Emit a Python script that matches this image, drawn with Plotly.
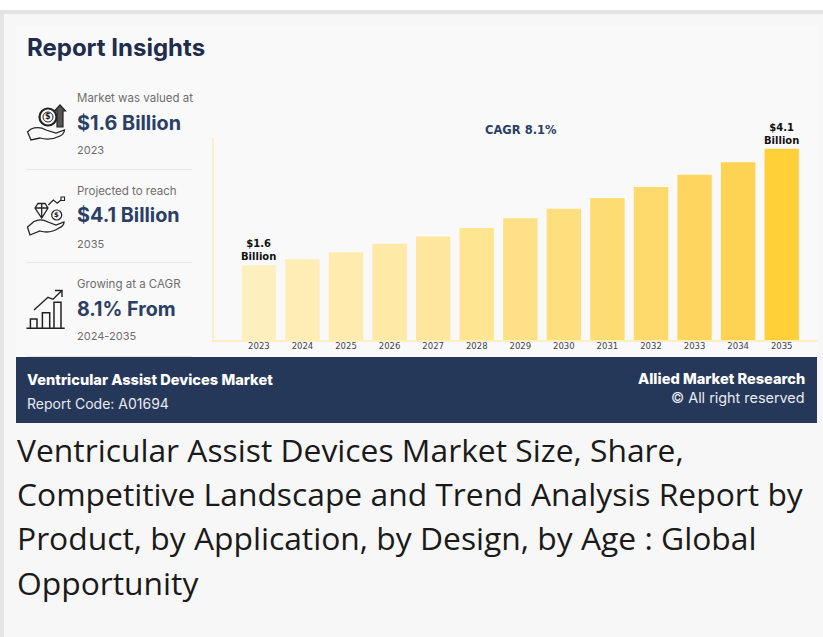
import plotly.graph_objects as go

# Market size by year, USD billion
years = ["2023", "2024", "2025", "2026", "2027", "2028", "2029",
         "2030", "2031", "2032", "2033", "2034", "2035"]
market_size = [1.6, 1.73, 1.88, 2.06, 2.22, 2.40, 2.61, 2.81, 3.04, 3.28, 3.54, 3.81, 4.1]
bar_colors = ["#FEEFBE", "#FEEDB5", "#FEEBAD", "#FEE9A6", "#FEE79C", "#FEE591", "#FEE187",
              "#FEDF7E", "#FEDC74", "#FED96B", "#FED65F", "#FED354", "#FFD038"]
value_labels = {"2023": "$1.6<br>Billion", "2035": "$4.1<br>Billion"}

W, H = 823, 637
NAVY = "#26385A"
INK = "#1F2D4D"
GREY = "#6E6E6E"
HEAD = "Inter"
AXIS_LINE = "#FDEFC3"


def px(x):
    return x / W


def py(y):
    return 1 - y / H


shapes = []
annotations = []


def rect(x0, y0, x1, y1, fill):
    shapes.append(dict(type="rect", xref="paper", yref="paper", layer="below",
                       x0=px(x0), x1=px(x1), y0=py(y0), y1=py(y1),
                       fillcolor=fill, line_width=0))


def text(x, y, s, size, color, family=HEAD, weight="normal", anchor="left"):
    annotations.append(dict(xref="paper", yref="paper", x=px(x), y=py(y), text=s,
                            showarrow=False, xanchor=anchor, yanchor="middle",
                            borderpad=0, borderwidth=0,
                            font=dict(size=size, color=color, family=family, weight=weight)))


def icon(ox, oy, commands, width=1.3, fill="rgba(0,0,0,0)", color="#222222"):
    """Add an outline given as (letter, x, y, ...) tuples relative to an icon origin."""
    parts = []
    for cmd in commands:
        if cmd[0] == "Z":
            parts.append("Z")
            continue
        nums = []
        for i, v in enumerate(cmd[1:]):
            nums.append(px(ox + v) if i % 2 == 0 else py(oy + v))
        parts.append(cmd[0] + " " + " ".join(f"{n:.5f}" for n in nums))
    shapes.append(dict(type="path", xref="paper", yref="paper", path=" ".join(parts),
                       line=dict(color=color, width=width), fillcolor=fill))


def circle(ox, oy, cx, cy, r, width=1.2, fill="rgba(0,0,0,0)"):
    shapes.append(dict(type="circle", xref="paper", yref="paper",
                       x0=px(ox + cx - r), x1=px(ox + cx + r),
                       y0=py(oy + cy - r), y1=py(oy + cy + r),
                       line=dict(color="#222222", width=width), fillcolor=fill))


# Page, card and footer panels
rect(0, 0, W, 10, "#FFFFFF")
rect(0, 10, W, H, "#E4E4E4")
rect(4, 14, W, H, "#F7F7F7")
rect(16, 26, 817, 357, "#F9F9F9")
rect(16, 357, 817, 423, NAVY)

# Left column dividers
rect(27, 169, 192, 170, "#E6E6E6")
rect(27, 262, 192, 263, "#E6E6E6")
rect(27, 356, 192, 357, "#E6E6E6")

# Left column text
text(27, 47, "Report Insights", 24, INK, weight=700)
text(77, 98, "Market was valued at", 11.5, GREY)
text(77, 123, "$1.6 Billion", 19.8, "#2B3F66", weight=700)
text(77, 150, "2023", 11, GREY)
text(77, 191, "Projected to reach", 11.5, GREY)
text(77, 215, "$4.1 Billion", 19.8, "#2B3F66", weight=700)
text(77, 244, "2035", 11, GREY)
text(77, 284, "Growing at a CAGR", 11.5, GREY)
text(77, 309, "8.1% From", 19.6, "#2B3F66", weight=700)
text(77, 336, "2024-2035", 11, GREY)

# Icon: coin with arrow above a hand
icon(26, 103, [("M", 1.5, 29), ("L", 5, 26), ("Q", 13, 23, 20, 27), ("L", 30, 30), ("L", 38.5, 27),
               ("Q", 38, 31, 34, 33), ("Q", 24, 38, 14, 35), ("L", 5, 37), ("Z",)])
circle(26, 103, 22, 14, 8.5, 2.2)
circle(26, 103, 22, 14, 5, 1.0)
text(48, 117, "$", 8, "#222222", family="DejaVu Sans", weight=700, anchor="center")
icon(26, 103, [("M", 31, 24), ("L", 31, 8), ("L", 28.5, 8), ("L", 34, 2), ("L", 39.5, 8),
               ("L", 37, 8), ("L", 37, 24), ("Z",)], 1.2, fill="#555555")

# Icon: diamond and coin above a hand
icon(26, 194, [("M", 1.5, 33), ("L", 8, 27.5), ("Q", 15, 24, 22, 28), ("L", 30, 31), ("L", 38, 28),
               ("Q", 38, 32, 33, 34), ("Q", 24, 40, 14, 37), ("L", 4, 41), ("Z",)])
icon(26, 194, [("M", 9, 14), ("L", 12, 9.5), ("L", 19, 9.5), ("L", 22, 14), ("L", 15.7, 24), ("Z",),
               ("M", 9, 14), ("L", 22, 14), ("M", 15.7, 9.5), ("L", 15.7, 24)], 1.3)
circle(26, 194, 30.7, 21, 5, 1.2)
text(56.7, 215.5, "$", 7, "#222222", family="DejaVu Sans", weight=700, anchor="center")
icon(26, 194, [("M", 22.3, 11), ("L", 27.3, 6), ("L", 31.3, 9.3), ("L", 35, 6)], 1.2)
icon(26, 194, [("M", 35, 3), ("L", 38.5, 3), ("L", 38.5, 6.5), ("L", 35, 6.5), ("Z",)], 1.1)

# Icon: rising columns with an arrow
icon(28, 288, [("M", -1.5, 40.3), ("L", 36.7, 40.3), ("M", 2.4, 40), ("L", 2.4, 31), ("L", 9, 31), ("L", 9, 40),
               ("M", 14.4, 40), ("L", 14.4, 24.7), ("L", 21.7, 24.7), ("L", 21.7, 40),
               ("M", 26, 40), ("L", 26, 14.3), ("L", 33, 14.3), ("L", 33, 40)], 1.5)
icon(28, 288, [("M", 6, 22), ("L", 20, 9.3), ("L", 25, 11.3), ("L", 33.4, 3),
               ("M", 27, 2.5), ("L", 34, 2.5), ("L", 34, 9)], 1.4)

# Chart caption
text(520.5, 130, "CAGR 8.1%", 11.5, "#2B3F66", family="DejaVu Sans", weight=700, anchor="center")

# Footer text
text(27, 380, "Ventricular Assist Devices Market", 14.6, "#FFFFFF", weight=800)
text(27, 403, "Report Code: A01694", 14, "#E8EAF0")
text(805, 379, "Allied Market Research", 14.6, "#FFFFFF", weight=800, anchor="right")
text(805, 398, "© All right reserved", 14.4, "#E8EAF0", anchor="right")

# Report title below the card
title_lines = ["Ventricular Assist Devices Market Size, Share,",
               "Competitive Landscape and Trend Analysis Report by",
               "Product, by Application, by Design, by Age : Global",
               "Opportunity"]
for line, y in zip(title_lines, [449.5, 493.5, 537.5, 582.5]):
    text(17, y, line, 31.8, "#1A1A1A", family="Open Sans")

# Value captions sit just above their bars; category axes position annotations by index
for year, label in value_labels.items():
    i = years.index(year)
    annotations.append(dict(x=i, y=market_size[i], xref="x", yref="y",
                            text=label, showarrow=False, yanchor="bottom", yshift=3,
                            borderpad=0, borderwidth=0,
                            font=dict(family="DejaVu Sans", size=10, color="#111111", weight=700)))

fig = go.Figure(go.Bar(
    x=years, y=market_size,
    marker=dict(color=bar_colors, line_width=0),
    width=0.79,
    cliponaxis=False,
    hoverinfo="skip",
))

fig.update_layout(
    width=W, height=H,
    margin=dict(l=0, r=0, t=0, b=0),
    paper_bgcolor="#FFFFFF",
    plot_bgcolor="rgba(0,0,0,0)",
    showlegend=False,
    shapes=shapes,
    annotations=annotations,
    xaxis=dict(
        domain=[px(214), px(817)],
        range=[-1.03, 12.81],
        type="category",
        showgrid=False, ticks="", showline=True, linecolor=AXIS_LINE, linewidth=2,
        tickfont=dict(family="DejaVu Sans", size=8.5, color="#444444"),
        ticklen=0, ticklabelstandoff=-3, automargin=False,
    ),
    yaxis=dict(
        domain=[py(340), py(138)],
        range=[0, 202 / 46.67],
        showgrid=False, zeroline=False, ticks="", showticklabels=False,
        showline=True, linecolor=AXIS_LINE, linewidth=2, automargin=False,
    ),
)

fig.write_html("out.html")
